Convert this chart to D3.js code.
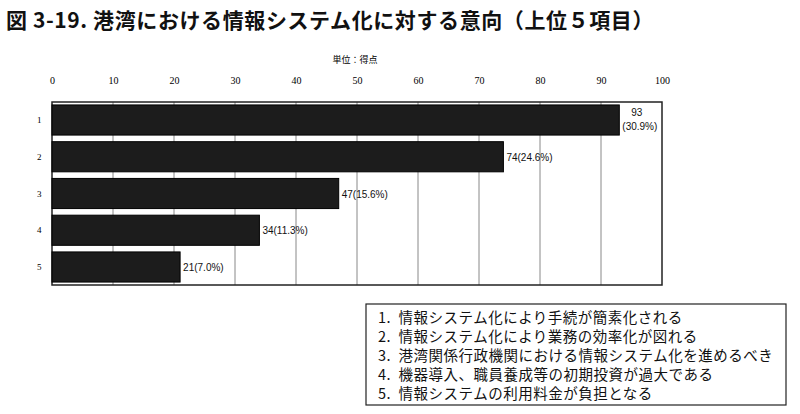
<!DOCTYPE html>
<html><head><meta charset="utf-8">
<script src="https://cdn.jsdelivr.net/npm/d3@7"></script>
<style>body{margin:0;background:#fff}</style>
</head><body>
<svg id="c" width="800" height="414"></svg>
<script>
const categories = ["1","2","3","4","5"];
const values = [93,74,47,34,21];
const percents = ["30.9%","24.6%","15.6%","11.3%","7.0%"];
const ticks = [0,10,20,30,40,50,60,70,80,90,100];
const legendItems = [
 "1.  情報システム化により手続が簡素化される",
 "2.  情報システム化により業務の効率化が図れる",
 "3.  港湾関係行政機関における情報システム化を進めるべき",
 "4.  機器導入、職員養成等の初期投資が過大である",
 "5.  情報システムの利用料金が負担となる"];
const title = "図 3-19. 港湾における情報システム化に対する意向（上位５項目）";

const svg = d3.select("#c");
const cjk = "'Noto Sans CJK JP', sans-serif";
svg.append("text").attr("x",6).attr("y",28).attr("font-family",cjk).attr("font-weight","bold")
  .attr("font-size",21).attr("letter-spacing",0.6).attr("fill","#111").text(title);

const L=52,R=662,T=102,B=285;
const x = d3.scaleLinear().domain([0,100]).range([L,R]);
const y = d3.scaleBand().domain(categories).range([T,B]).paddingInner(0.18).paddingOuter(0.08);

svg.append("text").attr("x",355).attr("y",63).attr("text-anchor","middle").attr("font-family",cjk)
  .attr("font-size",9).text("単位：得点");

const ax = svg.append("g").attr("transform",`translate(0,${T-18})`)
  .call(d3.axisTop(x).tickValues(ticks).tickSize(0).tickPadding(0));
ax.select(".domain").remove();
ax.selectAll("text").attr("font-family","'Liberation Serif', serif").attr("font-size",10);

svg.append("g").selectAll("line").data(ticks.slice(1,-1)).join("line")
  .attr("x1",d=>x(d)).attr("x2",d=>x(d)).attr("y1",T).attr("y2",B).attr("stroke","#888").attr("stroke-width",1);
svg.append("rect").attr("x",L).attr("y",T).attr("width",R-L).attr("height",B-T)
  .attr("fill","none").attr("stroke","#222").attr("stroke-width",1.5);

const data = categories.map((c,i)=>({c,v:values[i],p:percents[i]}));
svg.append("g").selectAll("rect").data(data).join("rect")
  .attr("x",x(0)).attr("y",d=>y(d.c)).attr("width",d=>x(d.v)-x(0)).attr("height",y.bandwidth())
  .attr("fill","#1c1c1c").attr("stroke","#000");

svg.append("g").selectAll("text").data(categories).join("text")
  .attr("x",37).attr("y",d=>y(d)+y.bandwidth()/2+3).attr("font-family","'Liberation Serif', serif")
  .attr("font-size",9).text(d=>d);

const lab = svg.append("g").attr("font-family","'Liberation Sans', Arial").attr("font-size",10).attr("fill","#111");
data.forEach((d,i)=>{
  if(i===0){
    lab.append("text").attr("x",x(d.v)+12).attr("y",y(d.c)+11).text(d.v);
    lab.append("text").attr("x",x(d.v)+3).attr("y",y(d.c)+25).text("("+d.p+")");
  } else {
    lab.append("text").attr("x",x(d.v)+3).attr("y",y(d.c)+y.bandwidth()/2+4).text(d.v+"("+d.p+")");
  }
});

svg.append("rect").attr("x",366).attr("y",304).attr("width",420).attr("height",101)
  .attr("fill","none").attr("stroke","#222").attr("stroke-width",1.2);
svg.append("g").selectAll("text").data(legendItems).join("text")
  .attr("x",378).attr("y",(d,i)=>323+i*19).attr("font-family",cjk).attr("font-size",14.5)
  .attr("letter-spacing",0.5).attr("fill","#111").style("white-space","pre").text(d=>d);
</script>
</body></html>
